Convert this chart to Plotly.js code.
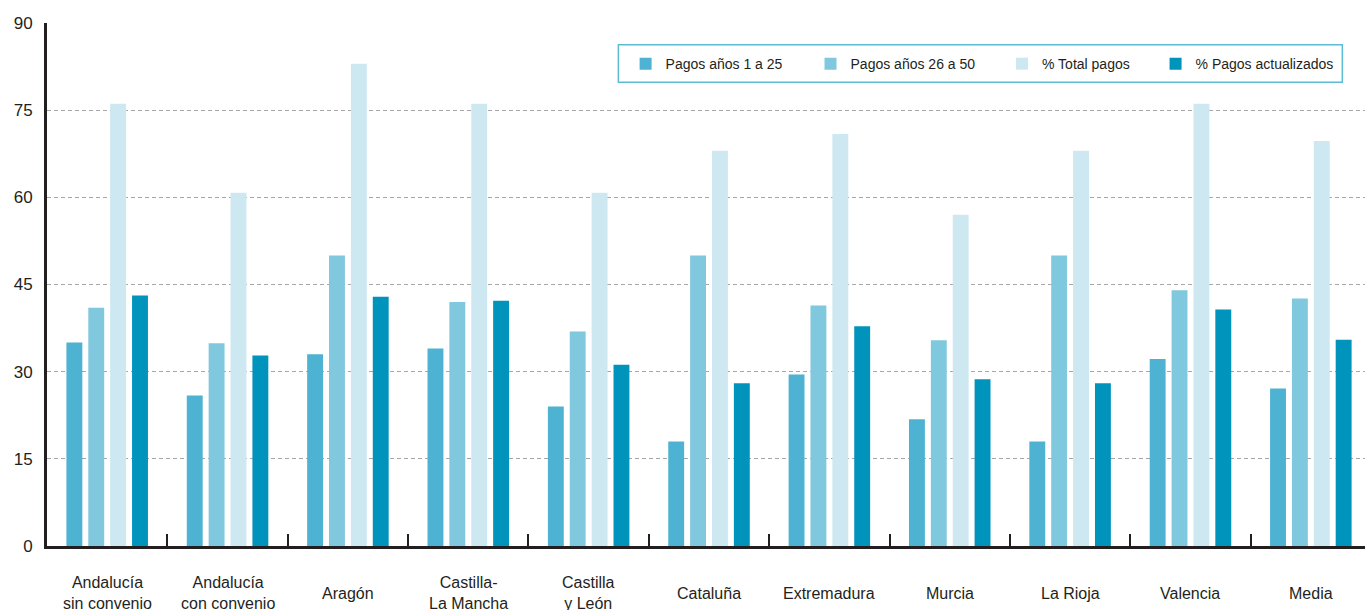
<!DOCTYPE html>
<html>
<head>
<meta charset="utf-8">
<script src="https://cdn.plot.ly/plotly-3.0.1.min.js"></script>
<style>
  html, body { margin: 0; padding: 0; background: #ffffff; }
  #chart { width: 1365px; height: 610px; }
</style>
</head>
<body>
<div id="chart"></div>
<script>
const categories = [
  "Andalucía<br>sin convenio", "Andalucía<br>con convenio", "Aragón",
  "Castilla-<br>La Mancha", "Castilla<br>y León", "Cataluña",
  "Extremadura", "Murcia", "La Rioja", "Valencia", "Media"
];
const seriesNames = ["Pagos años 1 a 25", "Pagos años 26 a 50", "% Total pagos", "% Pagos actualizados"];
const pagos1a25 =          [35.0, 25.9, 33.0, 34.0, 24.0, 18.0, 29.5, 21.8, 18.0, 32.2, 27.1];
const pagos26a50 =         [41.0, 34.9, 50.0, 42.0, 36.9, 50.0, 41.4, 35.4, 50.0, 44.0, 42.6];
const totalPagos =         [76.1, 60.8, 83.0, 76.1, 60.8, 68.0, 70.9, 57.0, 68.0, 76.1, 69.7];
const pagosActualizados =  [43.1, 32.8, 42.9, 42.2, 31.2, 28.0, 37.8, 28.7, 28.0, 40.7, 35.5];
const yTickVals = [0, 15, 30, 45, 60, 75, 90];

const colors = ["#4eb3d2", "#80c8de", "#cde8f1", "#0093bc"];
const seriesValues = [pagos1a25, pagos26a50, totalPagos, pagosActualizados];
const legendIds = ["legend", "legend2", "legend3", "legend4"];
const legendX = [0.4390, 0.5793, 0.7246, 0.8411];

const traces = seriesValues.map((vals, i) => ({
  type: "bar",
  name: seriesNames[i],
  x: categories,
  y: vals,
  marker: { color: colors[i], line: { width: 0 } },
  legend: legendIds[i],
  hoverinfo: "x+y"
}));

const fontFam = "'Liberation Sans', Arial, Helvetica, sans-serif";
const textColor = "#231f20";

const layout = {
  width: 1365,
  height: 610,
  margin: { l: 47, r: 0, t: 23, b: 64, pad: 0 },
  paper_bgcolor: "#ffffff",
  plot_bgcolor: "#ffffff",
  font: { family: fontFam, color: textColor, size: 14 },
  barmode: "group",
  bargap: 0.273,
  bargroupgap: 0.273,
  showlegend: true,
  xaxis: {
    type: "category",
    range: [-0.5, 10.45],
    showticklabels: false,
    showgrid: false,
    zeroline: false,
    showline: true,
    linecolor: "#231f20",
    linewidth: 2.5,
    ticks: "inside",
    tickson: "boundaries",
    ticklen: 12,
    tickwidth: 2,
    tickcolor: "#231f20",
    fixedrange: true
  },
  yaxis: {
    range: [0, 90],
    tickvals: yTickVals,
    ticktext: yTickVals.map(String),
    tickfont: { family: fontFam, size: 17, color: textColor },
    ticks: "",
    ticklabelstandoff: 8,
    showgrid: true,
    gridcolor: "#a7a7a7",
    gridwidth: 1,
    griddash: "4px,3px",
    zeroline: false,
    showline: true,
    linecolor: "#231f20",
    linewidth: 3,
    fixedrange: true
  },
  shapes: [{
    type: "rect", xref: "paper", yref: "paper",
    x0: 0.4335, x1: 0.9828, y0: 0.8866, y1: 0.9585,
    line: { color: "#5bbcd6", width: 1.5 },
    fillcolor: "#ffffff",
    layer: "above"
  }],
  annotations: categories.map((c, i) => ({
    text: c,
    x: i, xref: "x",
    y: -0.0899, yref: "paper",
    xanchor: "center", yanchor: "middle",
    showarrow: false,
    align: "center",
    font: { family: fontFam, size: 16, color: textColor }
  }))
};

legendIds.forEach((id, i) => {
  layout[id] = {
    x: legendX[i], xanchor: "left",
    y: 0.9215, yanchor: "middle",
    orientation: "h",
    bgcolor: "rgba(0,0,0,0)",
    borderwidth: 0,
    font: { family: fontFam, size: 14, color: textColor }
  };
});

Plotly.newPlot("chart", traces, layout, { displayModeBar: false, staticPlot: true });
</script>
</body>
</html>
